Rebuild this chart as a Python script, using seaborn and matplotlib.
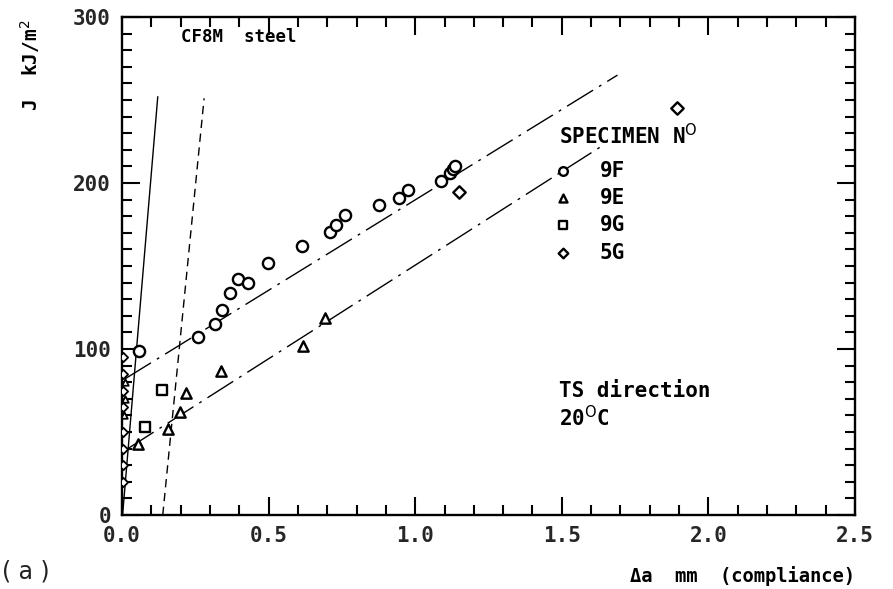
import numpy as np
import pandas as pd
import seaborn as sns
import matplotlib
matplotlib.use("Agg")
import matplotlib.pyplot as plt
from matplotlib.ticker import MultipleLocator

# ---- data ----
f9_da = [0.059, 0.26, 0.317, 0.34, 0.369, 0.396, 0.43, 0.498, 0.613, 0.71, 0.73,
         0.759, 0.878, 0.945, 0.974, 1.089, 1.12, 1.13, 1.135]
f9_j = [99, 107, 115, 123.5, 133.5, 142, 140, 152, 162, 170.5, 174.5,
        180.5, 186.5, 191, 195.5, 201.5, 206, 208.5, 210.5]

e9_da = [0.008, 0.010, 0.010, 0.056, 0.158, 0.198, 0.218, 0.338, 0.617, 0.693]
e9_j = [60, 70, 80, 43, 52, 62, 73.5, 87, 102, 118.5]

g9_da = [0.078, 0.135]
g9_j = [53, 75.5]

g5_da = [0.004, 0.004, 0.004, 0.004, 0.004, 0.004, 0.004, 0.004, 1.151, 1.893]
g5_j = [20, 30, 40, 50, 65, 75, 85, 95, 194.5, 245]

specimens = ["9F", "9E", "9G", "5G"]

# reference lines
blunt_da = [0.002, 0.122]
blunt_j = [0, 252]
offset_da = [0.139, 0.28]
offset_j = [0, 251]
fit9f_da = [0.01, 1.69]
fit9f_j = [82, 265]
fit9e_da = [0.02, 1.643]
fit9e_j = [40, 223]

xticks = [0.0, 0.5, 1.0, 1.5, 2.0, 2.5]
xticklabels = ["0.0", "0.5", "1.0", "1.5", "2.0", "2.5"]
yticks = [0, 100, 200, 300]
yticklabels = ["0", "100", "200", "300"]

# ---- build table ----
pts = pd.DataFrame({
    "da": f9_da + e9_da + g9_da + g5_da,
    "J": f9_j + e9_j + g9_j + g5_j,
    "spec": ["9F"] * len(f9_da) + ["9E"] * len(e9_da) + ["9G"] * len(g9_da) + ["5G"] * len(g5_da),
})

sns.set_theme(style="ticks")
plt.rcParams["font.family"] = ["DejaVu Sans Mono", "DejaVu Sans"]

fig = plt.figure(figsize=(8.93, 5.89), dpi=100)
ax = fig.add_axes([122 / 893, 74 / 589, 733 / 893, 498 / 589])

markers = {"9F": "o", "9E": "^", "9G": "s", "5G": "D"}
sizes = {"9F": 65, "9E": 55, "9G": 55, "5G": 40}
for sp in specimens:
    sub = pts[pts.spec == sp].copy()
    near = sub.da < 0.02
    sns.scatterplot(data=sub[~near], x="da", y="J", marker=markers[sp], s=sizes[sp],
                    facecolor="white", edgecolor="black", linewidth=1.7,
                    ax=ax, legend=False, zorder=3)
    if near.any():
        sns.scatterplot(data=sub[near], x="da", y="J", marker=markers[sp], s=22,
                        facecolor="white", edgecolor="black", linewidth=1.3,
                        ax=ax, legend=False, zorder=3)

line_kw = dict(color="black", linewidth=1.0, ax=ax, legend=False, zorder=2)
sns.lineplot(x=blunt_da, y=blunt_j, linestyle="-", **line_kw)
sns.lineplot(x=offset_da, y=offset_j, linestyle=(0, (6, 4)), **line_kw)
sns.lineplot(x=fit9f_da, y=fit9f_j, linestyle=(0, (22, 5, 2, 5)), **line_kw)
sns.lineplot(x=fit9e_da, y=fit9e_j, linestyle=(0, (22, 5, 2, 5)), **line_kw)

ax.set_xlim(0, 2.5)
ax.set_ylim(0, 300)
ax.set_xticks(xticks)
ax.set_xticklabels(xticklabels)
ax.set_yticks(yticks)
ax.set_yticklabels(yticklabels)
ax.xaxis.set_minor_locator(MultipleLocator(0.1))
ax.yaxis.set_minor_locator(MultipleLocator(10))
ax.tick_params(which="both", direction="in", top=True, right=True, color="black")
ax.tick_params(which="major", length=13, width=1.5, labelsize=15, pad=8)
ax.tick_params(which="minor", length=7, width=1.5)
for lab in ax.get_xticklabels() + ax.get_yticklabels():
    lab.set_fontweight("bold")
for s in ax.spines.values():
    s.set_linewidth(1.7)
    s.set_color("black")
ax.set_xlabel("")
ax.set_ylabel("")

tk = dict(fontweight="bold", color="black")
fig.text(30 / 893, 1 - 65 / 589, "J  kJ/m$^2$", rotation=90, ha="center", va="center",
         fontsize=14, **tk)
fig.text(855 / 893, 1 - 576 / 589, "Δa  mm  (compliance)", ha="right", va="center",
         fontsize=13.5, **tk)
fig.text(2 / 893, 1 - 572 / 589, "( a )", ha="left", va="center", fontsize=17,
         family="DejaVu Sans", color="#222222")

ax.text(0.2, 288, "CF8M  steel", fontsize=12.5, ha="left", va="center", **tk)
ax.text(1.49, 228.5, "SPECIMEN N$^{\\mathrm{O}}$", fontsize=15, ha="left", va="center", **tk)
for sp, yy in zip(specimens, [207.5, 191, 174.5, 158]):
    ax.scatter([1.505], [yy], marker=markers[sp], s=sizes[sp] * 0.6, facecolor="white",
               edgecolor="black", linewidth=1.7, zorder=3)
    ax.text(1.63, yy, sp, fontsize=15, ha="left", va="center", **tk)
ax.text(1.49, 74.5, "TS direction", fontsize=15, ha="left", va="center", **tk)
ax.text(1.49, 58.5, "20$^{\\mathrm{O}}$C", fontsize=15, ha="left", va="center", **tk)

fig.savefig("out.png", dpi=100, facecolor="white")
